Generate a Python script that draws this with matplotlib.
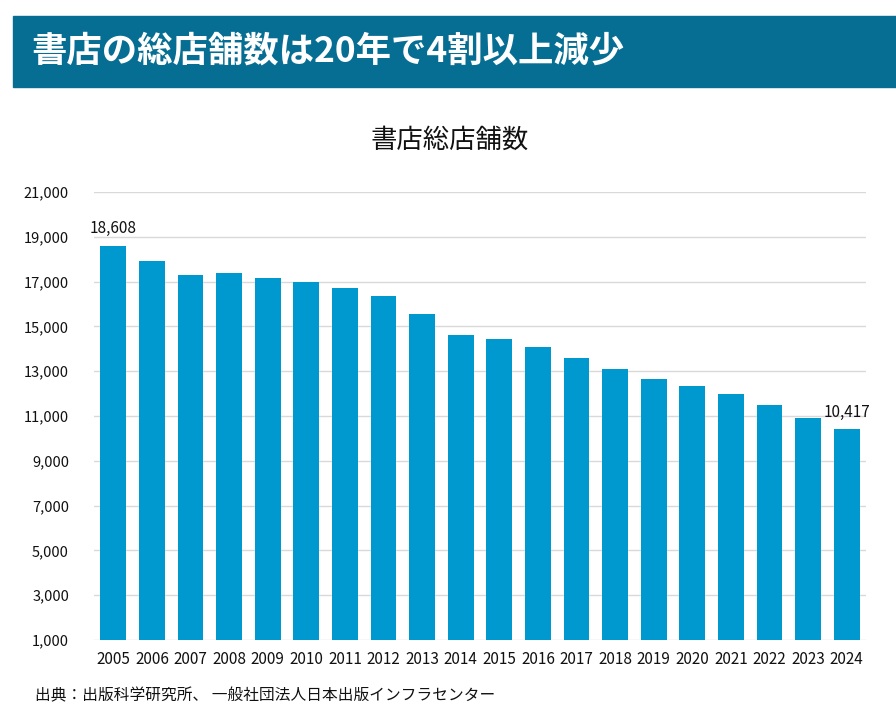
import matplotlib
matplotlib.use("Agg")
import matplotlib.pyplot as plt
from matplotlib.patches import Rectangle

plt.rcParams['font.family'] = ['Noto Sans CJK JP', 'DejaVu Sans']

years = [str(y) for y in range(2005, 2025)]
stores = [18608, 17917, 17313, 17390, 17178, 16970, 16713, 16352, 15572, 14638,
          14450, 14101, 13580, 13085, 12649, 12335, 11962, 11481, 10910, 10417]
labelled = {0: "18,608", 19: "10,417"}
yticks = list(range(1000, 21001, 2000))

header = "書店の総店舗数は20年で4割以上減少"
chart_title = "書店総店舗数"
source = "出典：出版科学研究所、 一般社団法人日本出版インフラセンター"

bar_color = "#0099CF"
head_color = "#066E93"

fig = plt.figure(figsize=(8.96, 7.23), dpi=100)

# title band
fig.patches.append(Rectangle((13 / 896, 1 - 87 / 723), 1 - 13 / 896, 71 / 723,
                             transform=fig.transFigure, color=head_color, zorder=0))
fig.text(31 / 896, 1 - 51 / 723, header, color="white", fontsize=25.5,
         fontweight="bold", va="center", ha="left")
fig.text(450 / 896, 1 - 140 / 723, chart_title, fontsize=19, ha="center",
         va="center", color="#111111")
fig.text(35 / 896, 1 - 696 / 723, source, fontsize=11.3, ha="left",
         va="center", color="#111111")

ax = fig.add_axes([94 / 896, 1 - 640 / 723, 772 / 896, 448 / 723])
x = list(range(len(years)))
ax.bar(x, [v - 1000 for v in stores], bottom=1000, width=0.67,
       color=bar_color, zorder=3)

for i, txt in labelled.items():
    ax.annotate(txt, (i, stores[i]), xytext=(0, 6), textcoords="offset points",
                ha="center", va="bottom", fontsize=11, color="#111111")

ax.set_xlim(-0.5, len(years) - 0.5)
ax.set_ylim(1000, 21000)
ax.set_yticks(yticks)
ax.set_yticklabels([f"{v:,}" for v in yticks], fontsize=10.5, color="#111111")
ax.set_xticks(x)
ax.set_xticklabels(years, fontsize=11, color="#111111")
ax.tick_params(axis="y", length=0, pad=18)
ax.tick_params(axis="x", length=0, pad=8)
ax.grid(axis="y", color="#D9D9D9", linewidth=1, zorder=0)
for s in ax.spines.values():
    s.set_visible(False)

fig.savefig("out.png", dpi=100)
